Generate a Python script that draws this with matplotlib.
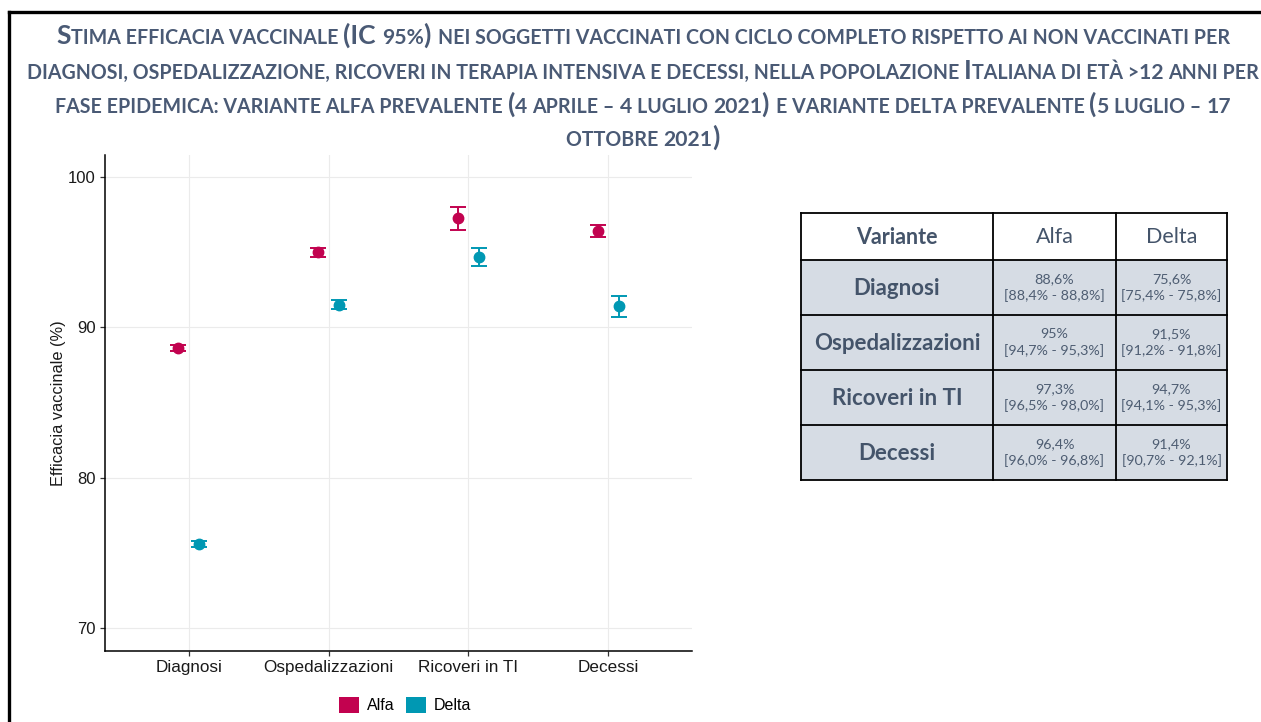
import matplotlib
matplotlib.use("Agg")
import matplotlib.pyplot as plt
from matplotlib.patches import Rectangle, Patch
from matplotlib.lines import Line2D
import numpy as np

# ---------------- data ----------------
categories = ["Diagnosi", "Ospedalizzazioni", "Ricoveri in TI", "Decessi"]
series = ["Alfa", "Delta"]
alfa_est = [88.6, 95.0, 97.3, 96.4]
alfa_low = [88.4, 94.7, 96.5, 96.0]
alfa_high = [88.8, 95.3, 98.0, 96.8]
delta_est = [75.6, 91.5, 94.7, 91.4]
delta_low = [75.4, 91.2, 94.1, 90.7]
delta_high = [75.8, 91.8, 95.3, 92.1]
yticks = [70, 80, 90, 100]

title_lines = [
    "Stima efficacia vaccinale (IC 95%) nei soggetti vaccinati con ciclo completo rispetto ai non vaccinati per",
    "diagnosi, ospedalizzazione, ricoveri in terapia intensiva e decessi, nella popolazione Italiana di età >12 anni per",
    "fase epidemica: variante alfa prevalente (4 aprile – 4 luglio 2021) e variante delta prevalente (5 luglio – 17",
    "ottobre 2021)",
]

col_alfa = "#C2024F"
col_delta = "#0098B3"
slate = "#44546A"

W, H = 1261, 722
fig = plt.figure(figsize=(W / 100, H / 100), dpi=100)
fig.patch.set_facecolor("white")

# ---------------- chart ----------------
ax = fig.add_axes([105 / W, 1 - 651 / H, (692 - 105) / W, (651 - 155) / H])
x = np.arange(1, len(categories) + 1)
dodge = 0.075
for est, lo, hi, col, off in [
    (alfa_est, alfa_low, alfa_high, col_alfa, -dodge),
    (delta_est, delta_low, delta_high, col_delta, dodge),
]:
    est = np.array(est); lo = np.array(lo); hi = np.array(hi)
    ax.errorbar(x + off, est, yerr=[est - lo, hi - est], fmt="o", color=col,
                ecolor=col, elinewidth=1.4, capsize=5.5, capthick=1.4,
                markersize=7.5, zorder=3)

ax.set_xlim(0.4, 4.6)
ax.set_ylim(68.47, 101.47)
ax.set_xticks(x)
ax.set_xticklabels(categories, fontsize=12.3, family="Liberation Sans", color="#1a1a1a")
ax.set_yticks(yticks)
ax.set_yticklabels([str(v) for v in yticks], fontsize=12, family="Liberation Sans", color="#1a1a1a")
ax.grid(True, color="#EBEBEB", linewidth=0.8)
ax.set_axisbelow(True)
for s in ["top", "right"]:
    ax.spines[s].set_visible(False)
for s in ["left", "bottom"]:
    ax.spines[s].set_linewidth(1.1)
    ax.spines[s].set_color("black")
ax.tick_params(length=3.5, width=0.9, color="#333333", pad=3)
ax.set_ylabel("Efficacia vaccinale (%)", fontsize=11.8, family="Liberation Sans",
              color="#1a1a1a", labelpad=1.5)

handles = [Patch(facecolor=col_alfa, edgecolor="none", label=series[0]),
           Patch(facecolor=col_delta, edgecolor="none", label=series[1])]
fig.legend(handles=handles, loc="center", bbox_to_anchor=(405 / W, 1 - 705 / H),
           ncol=2, frameon=False, prop={"family": "Liberation Sans", "size": 11.5},
           handlelength=1.25, handleheight=1.25, handletextpad=0.5, columnspacing=0.7)

# ---------------- table ----------------
tx0, ty0, tw, th = 801, 213, 426, 267
tax = fig.add_axes([tx0 / W, 1 - (ty0 + th) / H, tw / W, th / H])
tax.set_xlim(0, tw)
tax.set_ylim(th, 0)
tax.axis("off")
cols = [0, 192, 315, 426]
rows = [0, 47, 102, 157, 212, 267]
tax.add_patch(Rectangle((0, rows[1]), tw, th - rows[1], facecolor="#D6DCE4",
                        edgecolor="none", zorder=1))
for cx in cols:
    tax.plot([cx, cx], [0, th], color="black", lw=1.3, zorder=3, clip_on=False,
             solid_capstyle="projecting")
for ry in rows:
    tax.plot([0, tw], [ry, ry], color="black", lw=1.3, zorder=3, clip_on=False,
             solid_capstyle="projecting")

def fmt(v, always_dec):
    s = f"{v:.1f}" if always_dec else f"{v:g}"
    return s.replace(".", ",") + "%"

hdr = ["Variante", series[0], series[1]]
for i, t in enumerate(hdr):
    cxm = (cols[i] + cols[i + 1]) / 2
    tax.text(cxm, rows[1] / 2 + 1, t, ha="center", va="center", fontsize=15.5,
             family="Lato", weight="bold" if i == 0 else "normal", color=slate, zorder=4)
for r, cat in enumerate(categories):
    cym = (rows[r + 1] + rows[r + 2]) / 2
    tax.text(cols[1] / 2, cym + 1, cat, ha="center", va="center", fontsize=16,
             family="Lato", weight="bold", color=slate, zorder=4)
    for j, (e, lo, hi) in enumerate([(alfa_est, alfa_low, alfa_high),
                                     (delta_est, delta_low, delta_high)]):
        cxm = (cols[j + 1] + cols[j + 2]) / 2
        txt = fmt(e[r], False) + "\n[" + fmt(lo[r], True) + " - " + fmt(hi[r], True) + "]"
        tax.text(cxm, cym, txt, ha="center", va="center", fontsize=10.3,
                 family="Lato", weight="normal", color="#4E5D72", linespacing=1.3,
                 zorder=4)

# ---------------- title (small caps) ----------------
renderer = fig.canvas.get_renderer()
tcolor = "#4A5A75"

def run_width(s, size):
    t1 = fig.text(0, 0, "|" + s + "|", fontsize=size, family="Lato", weight="bold")
    t2 = fig.text(0, 0, "||", fontsize=size, family="Lato", weight="bold")
    w = t1.get_window_extent(renderer).width - t2.get_window_extent(renderer).width
    t1.remove(); t2.remove()
    return w

def split_runs(line):
    runs = []
    for ch in line:
        if ch.islower() or ch in ",:–>":
            kind = "s"
        elif ch.isdigit() or ch == "%":
            kind = "d"
        elif ch == " " and runs:
            kind = runs[-1][0]
        else:
            kind = "b"
        if runs and runs[-1][0] == kind:
            runs[-1][1] += ch
        else:
            runs.append([kind, ch])
    return runs

base = {"b": 17.0, "s": 12.6, "d": 13.6}
# fit the widest line to the reference width (~1222 px)
w2 = sum(run_width(s.upper(), base[k]) for k, s in split_runs(title_lines[1]))
scale = 1222 / w2
sizes = {k: v * scale for k, v in base.items()}

baselines = [44, 79, 113, 146]
for line, yb in zip(title_lines, baselines):
    runs = split_runs(line)
    widths = [run_width(s.upper(), sizes[k]) for k, s in runs]
    total = sum(widths)
    xpos = 643 - total / 2
    for (kind, s), w in zip(runs, widths):
        fig.text(xpos / W, 1 - yb / H, s.upper(), fontsize=sizes[kind], family="Lato",
                 weight="bold", color=tcolor, ha="left", va="baseline")
        xpos += w

# ---------------- frame ----------------
fig.add_artist(Line2D([9 / W, 1], [1 - 12 / H, 1 - 12 / H], color="black", lw=2.4,
                      transform=fig.transFigure))
fig.add_artist(Line2D([9 / W, 9 / W], [0, 1 - 12 / H], color="black", lw=2.4,
                      transform=fig.transFigure))

fig.savefig("out.png", dpi=100, facecolor="white")
